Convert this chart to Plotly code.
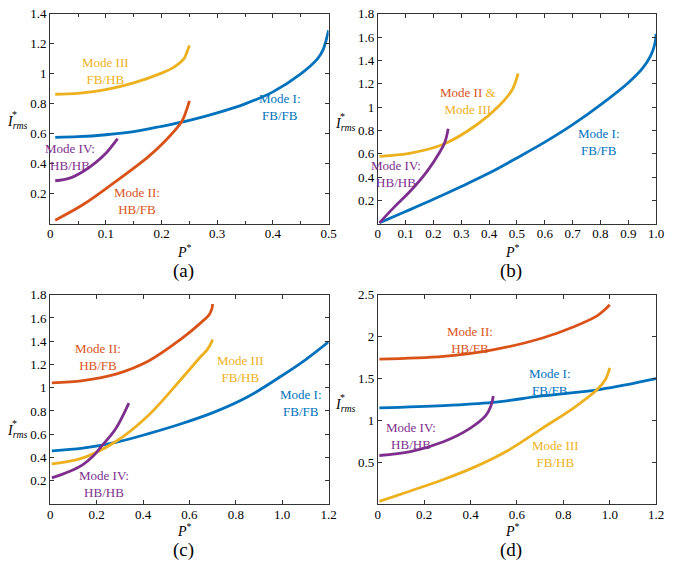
import plotly.graph_objects as go

BLUE = "#0072BD"
ORANGE = "#D95319"
YELLOW = "#EDB120"
PURPLE = "#7E2F8E"
FONT = "Times New Roman, Liberation Serif, DejaVu Serif, serif"

# ---------------- Panel (a) ----------------
a_m1_x = [0.009, 0.05, 0.1, 0.15, 0.2, 0.25, 0.3, 0.35, 0.4, 0.45, 0.48, 0.49, 0.5]
a_m1_y = [0.577, 0.581, 0.594, 0.615, 0.65, 0.69, 0.74, 0.80, 0.88, 1.0, 1.1, 1.16, 1.29]
a_m2_x = [0.009, 0.06, 0.118, 0.177, 0.206, 0.236, 0.244, 0.25]
a_m2_y = [0.024, 0.13, 0.283, 0.45, 0.55, 0.68, 0.75, 0.82]
a_m3_x = [0.009, 0.05, 0.1, 0.15, 0.2, 0.22, 0.24, 0.245, 0.25]
a_m3_y = [0.864, 0.87, 0.895, 0.94, 1.005, 1.04, 1.10, 1.14, 1.19]
a_m4_x = [0.009, 0.035, 0.059, 0.082, 0.1, 0.121]
a_m4_y = [0.287, 0.305, 0.349, 0.41, 0.47, 0.568]

# ---------------- Panel (b) ----------------
b_m1_x = [0.006, 0.1, 0.2, 0.3, 0.4, 0.5, 0.6, 0.7, 0.8, 0.9, 0.95, 0.98, 0.995, 1.0]
b_m1_y = [0.008, 0.105, 0.21, 0.32, 0.435, 0.565, 0.70, 0.85, 1.02, 1.21, 1.33, 1.44, 1.54, 1.63]
b_m23_x = [0.006, 0.118, 0.236, 0.353, 0.436, 0.483, 0.504]
b_m23_y = [0.578, 0.606, 0.682, 0.845, 1.013, 1.15, 1.29]
b_m4_x = [0.006, 0.059, 0.118, 0.177, 0.224, 0.241, 0.253]
b_m4_y = [0.008, 0.143, 0.283, 0.45, 0.62, 0.70, 0.816]

# ---------------- Panel (c) ----------------
c_m1_x = [0.007, 0.141, 0.283, 0.424, 0.565, 0.707, 0.85, 1.0, 1.1, 1.2]
c_m1_y = [0.457, 0.48, 0.53, 0.605, 0.69, 0.79, 0.92, 1.105, 1.24, 1.395]
c_m2_x = [0.007, 0.141, 0.283, 0.424, 0.565, 0.65, 0.686, 0.697, 0.70]
c_m2_y = [1.041, 1.061, 1.117, 1.23, 1.42, 1.56, 1.63, 1.68, 1.72]
c_m3_x = [0.007, 0.141, 0.283, 0.424, 0.565, 0.65, 0.678, 0.695, 0.70]
c_m3_y = [0.344, 0.396, 0.537, 0.763, 1.075, 1.27, 1.33, 1.39, 1.415]
c_m4_x = [0.007, 0.085, 0.141, 0.184, 0.226, 0.283, 0.339]
c_m4_y = [0.225, 0.282, 0.339, 0.41, 0.508, 0.65, 0.868]

# ---------------- Panel (d) ----------------
d_m1_x = [0.007, 0.283, 0.495, 0.707, 0.961, 1.2]
d_m1_y = [1.147, 1.174, 1.213, 1.29, 1.37, 1.497]
d_m2_x = [0.007, 0.283, 0.495, 0.707, 0.848, 0.947, 0.982, 1.0]
d_m2_y = [1.731, 1.763, 1.84, 1.98, 2.12, 2.25, 2.33, 2.38]
d_m3_x = [0.007, 0.141, 0.283, 0.424, 0.565, 0.707, 0.848, 0.947, 0.982, 1.0]
d_m3_y = [0.03, 0.155, 0.292, 0.449, 0.645, 0.90, 1.155, 1.37, 1.49, 1.625]
d_m4_x = [0.007, 0.141, 0.283, 0.396, 0.466, 0.488, 0.498]
d_m4_y = [0.579, 0.626, 0.743, 0.90, 1.057, 1.174, 1.29]

# ---------------- Tick labels ----------------
a_xticks = [0, 0.1, 0.2, 0.3, 0.4, 0.5]
a_xlabels = ["0", "0.1", "0.2", "0.3", "0.4", "0.5"]
a_yticks = [0.2, 0.4, 0.6, 0.8, 1.0, 1.2, 1.4]
a_ylabels = ["0.2", "0.4", "0.6", "0.8", "1", "1.2", "1.4"]
b_xticks = [0, 0.1, 0.2, 0.3, 0.4, 0.5, 0.6, 0.7, 0.8, 0.9, 1.0]
b_xlabels = ["0", "0.1", "0.2", "0.3", "0.4", "0.5", "0.6", "0.7", "0.8", "0.9", "1.0"]
b_yticks = [0.2, 0.4, 0.6, 0.8, 1.0, 1.2, 1.4, 1.6, 1.8]
b_ylabels = ["0.2", "0.4", "0.6", "0.8", "1", "1.2", "1.4", "1.6", "1.8"]
c_xticks = [0, 0.2, 0.4, 0.6, 0.8, 1.0, 1.2]
c_xlabels = ["0", "0.2", "0.4", "0.6", "0.8", "1.0", "1.2"]
c_yticks = b_yticks
c_ylabels = b_ylabels
d_xticks = c_xticks
d_xlabels = c_xlabels
d_yticks = [0.5, 1.0, 1.5, 2.0, 2.5]
d_ylabels = ["0.5", "1", "1.5", "2", "2.5"]

fig = go.Figure()

def add_line(x, y, color, ax):
    fig.add_trace(go.Scatter(
        x=x, y=y, mode="lines", showlegend=False, hoverinfo="skip",
        line=dict(color=color, width=2.8, shape="spline", smoothing=1.0),
        xaxis="x" + ax, yaxis="y" + ax))

add_line(a_m1_x, a_m1_y, BLUE, "")
add_line(a_m2_x, a_m2_y, ORANGE, "")
add_line(a_m3_x, a_m3_y, YELLOW, "")
add_line(a_m4_x, a_m4_y, PURPLE, "")

add_line(b_m1_x, b_m1_y, BLUE, "2")
add_line(b_m23_x, b_m23_y, YELLOW, "2")
add_line(b_m4_x, b_m4_y, PURPLE, "2")

add_line(c_m1_x, c_m1_y, BLUE, "3")
add_line(c_m2_x, c_m2_y, ORANGE, "3")
add_line(c_m3_x, c_m3_y, YELLOW, "3")
add_line(c_m4_x, c_m4_y, PURPLE, "3")

add_line(d_m1_x, d_m1_y, BLUE, "4")
add_line(d_m2_x, d_m2_y, ORANGE, "4")
add_line(d_m3_x, d_m3_y, YELLOW, "4")
add_line(d_m4_x, d_m4_y, PURPLE, "4")

W, H = 673, 565
def px(v):
    return v / W
def py(v):
    return 1 - v / H

def xax(rng, tv, tt, dom, minor_dt):
    return dict(range=rng, domain=dom, tickvals=tv, ticktext=tt, ticks="inside",
                ticklen=4, tickcolor="#333", showline=True, linecolor="#333",
                linewidth=1, mirror="allticks", showgrid=False, zeroline=False,
                ticklabelstandoff=-2,
                tickfont=dict(family=FONT, size=13, color="black"),
                minor=dict(ticks="inside", dtick=minor_dt, ticklen=3, tickcolor="#333"),
                fixedrange=True)

def yax(rng, tv, tt, dom):
    return dict(range=rng, domain=dom, tickvals=tv, ticktext=tt, ticks="inside",
                ticklen=4, tickcolor="#333", showline=True, linecolor="#333",
                linewidth=1, mirror="allticks", showgrid=False, zeroline=False,
                tickfont=dict(family=FONT, size=13, color="black"),
                fixedrange=True)

top_dom = [py(219.5), py(7)]
bot_dom = [py(503.2), py(291.3)]
left_dom = [px(48), px(331)]
right_dom = [px(381), px(664)]

fig.update_layout(
    width=W, height=H, margin=dict(l=0, r=0, t=0, b=0),
    paper_bgcolor="white", plot_bgcolor="white",
    xaxis=xax([0, 0.5], a_xticks, a_xlabels, left_dom, 0.05) | dict(anchor="y"),
    yaxis=yax([0, 1.4], a_yticks, a_ylabels, top_dom) | dict(anchor="x"),
    xaxis2=xax([0, 1.0], b_xticks, b_xlabels, right_dom, 0.1) | dict(anchor="y2"),
    yaxis2=yax([0, 1.8], b_yticks, b_ylabels, top_dom) | dict(anchor="x2"),
    xaxis3=xax([0, 1.2], c_xticks, c_xlabels, left_dom, 0.2) | dict(anchor="y3"),
    yaxis3=yax([0, 1.8], c_yticks, c_ylabels, bot_dom) | dict(anchor="x3"),
    xaxis4=xax([0, 1.2], d_xticks, d_xlabels, right_dom, 0.2) | dict(anchor="y4"),
    yaxis4=yax([0, 2.5], d_yticks, d_ylabels, bot_dom) | dict(anchor="x4"),
)

ann = []
def label(text, x, y, color, ax):
    ann.append(dict(text=text, x=x, y=y, xref="x" + ax, yref="y" + ax,
                    showarrow=False, align="center",
                    font=dict(family=FONT, size=13, color=color)))

# (a)
label("Mode III<br>FB/HB", 0.1, 1.017, YELLOW, "")
label("Mode I:<br>FB/FB", 0.413, 0.776, BLUE, "")
label("Mode IV:<br>HB/HB", 0.035, 0.447, PURPLE, "")
label("Mode II:<br>HB/FB", 0.156, 0.151, ORANGE, "")
# (b)
label("<span style='color:%s'>Mode II </span>&amp;<br>Mode III" % ORANGE, 0.324, 1.055, YELLOW, "2")
label("Mode I:<br>FB/FB", 0.796, 0.705, BLUE, "2")
label("Mode IV:<br>HB/HB", 0.065, 0.424, PURPLE, "2")
# (c)
label("Mode II:<br>HB/FB", 0.205, 1.262, ORANGE, "3")
label("Mode III<br>FB/HB", 0.82, 1.163, YELLOW, "3")
label("Mode I:<br>FB/FB", 1.083, 0.866, BLUE, "3")
label("Mode IV:<br>HB/HB", 0.233, 0.17, PURPLE, "3")
# (d)
label("Mode II:<br>HB/FB", 0.396, 1.963, ORANGE, "4")
label("Mode I:<br>FB/FB", 0.743, 1.46, BLUE, "4")
label("Mode IV:<br>HB/HB", 0.142, 0.814, PURPLE, "4")
label("Mode III<br>FB/HB", 0.764, 0.598, YELLOW, "4")

def paper_text(text, x, y, size, pad=1):
    ann.append(dict(text=text, x=px(x), y=py(y), xref="paper", yref="paper",
                    showarrow=False, xanchor="center", yanchor="middle",
                    borderpad=pad,
                    font=dict(family=FONT, size=size, color="black")))

for (lx, ly, pxx, pyy, tx, ty, t) in [
        (15, 115, 185, 247, 183, 267, "(a)"),
        (348, 117, 518, 247, 516, 267, "(b)"),
        (15, 428, 185, 530, 183, 550, "(c)"),
        (348, 401, 518, 530, 516, 550, "(d)")]:
    paper_text("<i>I</i><sub><i>rms</i></sub>", lx, ly + 2, 14)
    paper_text("*", lx - 3, ly - 6, 10)
    paper_text("<i>P</i><sup>*</sup>", pxx, pyy, 14, 0)
    paper_text(t, tx, ty, 19, 0)

fig.update_layout(annotations=ann)
fig.write_html("out.html")
